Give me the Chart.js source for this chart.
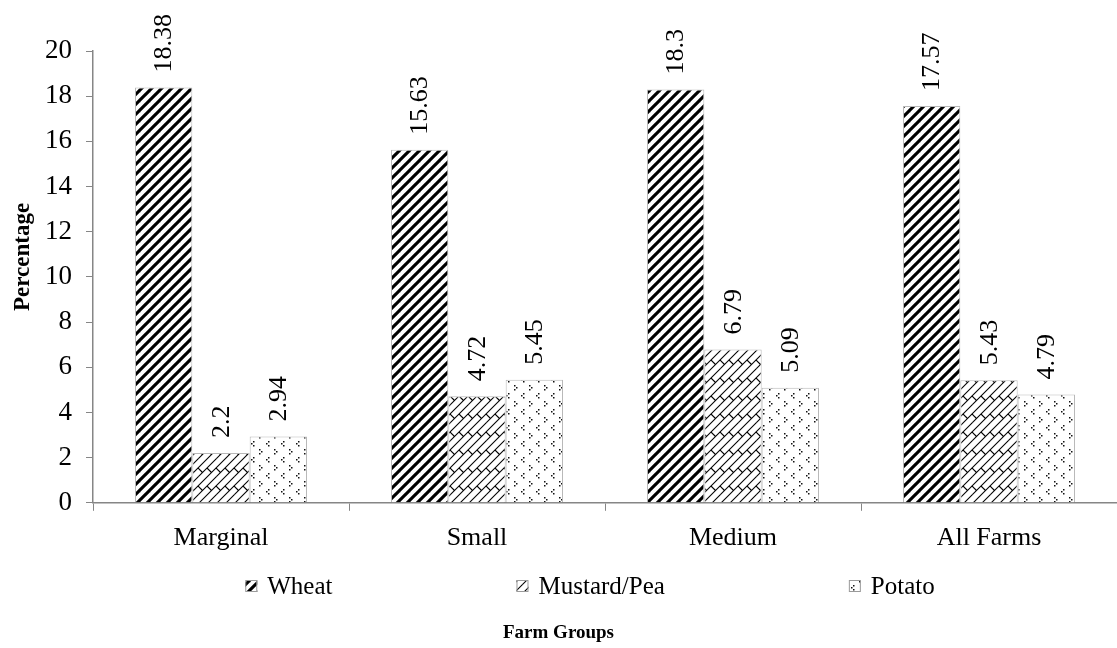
<!DOCTYPE html>
<html>
<head>
<meta charset="utf-8">
<script src="https://cdn.jsdelivr.net/npm/chart.js@4.4.1/dist/chart.umd.min.js"></script>
<style>
  html, body { margin: 0; padding: 0; background: #fff; }
  #wrap { width: 1117px; height: 648px; position: relative; }
</style>
</head>
<body>
<div id="wrap"><canvas id="chart"></canvas></div>
<script>
// Share of area by crop for each farm group (%)
const farmGroups = ['Marginal', 'Small', 'Medium', 'All Farms'];
const seriesNames = ['Wheat', 'Mustard/Pea', 'Potato'];
const wheat = [18.38, 15.63, 18.3, 17.57];
const mustardPea = [2.2, 4.72, 6.79, 5.43];
const potato = [2.94, 5.45, 5.09, 4.79];
const yMin = 0, yMax = 20, yStep = 2;
const xTitle = 'Farm Groups';
const yTitle = 'Percentage';

const FONT = '"Liberation Serif", "Times New Roman", serif';
const AXIS_GREY = '#868686';

// ---- fill patterns ----
function makeTile(w, h, draw) {
  const c = document.createElement('canvas');
  c.width = w; c.height = h;
  const g = c.getContext('2d');
  g.fillStyle = '#fff';
  g.fillRect(0, 0, w, h);
  draw(g, w, h);
  return document.createElement('canvas').getContext('2d').createPattern(c, 'repeat');
}

// wide diagonal stripes
const wheatPattern = makeTile(10, 10, (g, w) => {
  g.strokeStyle = '#000';
  g.lineWidth = 3.1;
  for (let o = -w; o <= w; o += w) {
    g.beginPath();
    g.moveTo(o - 2, w + 2);
    g.lineTo(o + w + 2, -2);
    g.stroke();
  }
});

// diagonal brick: continuous "/" courses joined by staggered short "\" joints
const mustardPattern = makeTile(18, 18, (g, s) => {
  g.strokeStyle = '#000';
  g.lineWidth = 1.1;
  const h = s / 2;
  for (let k = -2; k <= 5; k++) {
    g.beginPath();
    g.moveTo(-5, h * k + 5);
    g.lineTo(h * k + 5, -5);
    g.stroke();
  }
  for (let k = -3; k <= 5; k++) {
    for (let n = -4; n <= 4; n++) {
      const ax = h * k + n * s, ay = -n * s;
      g.beginPath();
      g.moveTo(ax, ay);
      g.lineTo(ax + h / 2, ay + h / 2);
      g.stroke();
    }
  }
});

// small dotted chevrons
const potatoPattern = makeTile(15, 16, (g) => {
  g.fillStyle = '#111';
  const dot = (x, y) => g.fillRect(x, y, 1.5, 1.5);
  const right = (x, y) => { dot(x, y); dot(x + 2, y + 2); dot(x, y + 4); };
  const left = (x, y) => { dot(x + 2, y); dot(x, y + 2); dot(x + 2, y + 4); };
  right(4, 1);
  left(11, 9);
});

const patterns = [wheatPattern, mustardPattern, potatoPattern];
const seriesData = [wheat, mustardPea, potato];

// ---- value labels written vertically above each bar ----
const valueLabels = {
  id: 'valueLabels',
  afterDatasetsDraw(chart) {
    const ctx = chart.ctx;
    ctx.save();
    ctx.font = '26px ' + FONT;
    ctx.fillStyle = '#000';
    ctx.textAlign = 'left';
    ctx.textBaseline = 'middle';
    chart.data.datasets.forEach((ds, di) => {
      chart.getDatasetMeta(di).data.forEach((bar, i) => {
        ctx.save();
        ctx.translate(bar.x + 1, bar.y - 15);
        ctx.rotate(-Math.PI / 2);
        ctx.fillText(String(ds.data[i]), 0, 0);
        ctx.restore();
      });
    });
    ctx.restore();
  }
};

// ---- legend row with pattern swatches, then the two axis titles ----
const legendAndTitles = {
  id: 'legendAndTitles',
  afterDraw(chart) {
    const ctx = chart.ctx;
    const area = chart.chartArea;
    const box = 12, textGap = 10, itemGap = 184;
    ctx.save();
    ctx.font = '25px ' + FONT;
    const items = chart.data.datasets.map(ds => ({
      ds, w: box + textGap + ctx.measureText(ds.label).width
    }));
    const total = items.reduce((s, it) => s + it.w, 0) + itemGap * (items.length - 1);
    let x = (area.left + area.right) / 2 - 15 - total / 2;
    const y = chart.scales.x.bottom + 20;
    ctx.textBaseline = 'middle';
    ctx.textAlign = 'left';
    items.forEach(it => {
      ctx.fillStyle = it.ds.backgroundColor;
      ctx.fillRect(x, y - box / 2, box, box);
      ctx.strokeStyle = '#9a9a9a';
      ctx.lineWidth = 1;
      ctx.strokeRect(x + 0.5, y - box / 2 + 0.5, box - 1, box - 1);
      ctx.fillStyle = '#000';
      ctx.fillText(it.ds.label, x + box + textGap, y + 1);
      x += it.w + itemGap;
    });

    // horizontal axis title, centred on the whole figure
    ctx.font = 'bold 19px ' + FONT;
    ctx.textAlign = 'center';
    ctx.fillText(xTitle, chart.width / 2, chart.height - 15);

    // vertical axis title
    ctx.font = 'bold 23px ' + FONT;
    ctx.translate(23, (area.top + area.bottom) / 2 - 20);
    ctx.rotate(-Math.PI / 2);
    ctx.fillText(yTitle, 0, 0);
    ctx.restore();
  }
};

new Chart(document.getElementById('chart'), {
  type: 'bar',
  data: {
    labels: farmGroups,
    datasets: seriesNames.map((name, i) => ({
      label: name,
      data: seriesData[i],
      backgroundColor: patterns[i],
      borderColor: 'rgba(0,0,0,0.28)',
      borderWidth: 1,
      categoryPercentage: 0.672,
      barPercentage: 1
    }))
  },
  options: {
    responsive: true,
    maintainAspectRatio: false,
    animation: false,
    layout: { padding: { top: 51, left: 31, right: 0, bottom: 82 } },
    scales: {
      x: {
        grid: { display: true, drawOnChartArea: false, offset: true, tickLength: 8, color: AXIS_GREY },
        border: { color: AXIS_GREY, width: 1.5 },
        ticks: { color: '#000', font: { family: FONT, size: 26 }, padding: 12 }
      },
      y: {
        min: yMin,
        max: yMax,
        ticks: { stepSize: yStep, color: '#000', font: { family: FONT, size: 27 }, padding: 14 },
        grid: { display: true, drawOnChartArea: false, tickLength: 7, color: AXIS_GREY },
        border: { color: AXIS_GREY, width: 1.5 }
      }
    },
    plugins: {
      legend: { display: false },
      tooltip: { enabled: false }
    }
  },
  plugins: [valueLabels, legendAndTitles]
});
</script>
</body>
</html>
